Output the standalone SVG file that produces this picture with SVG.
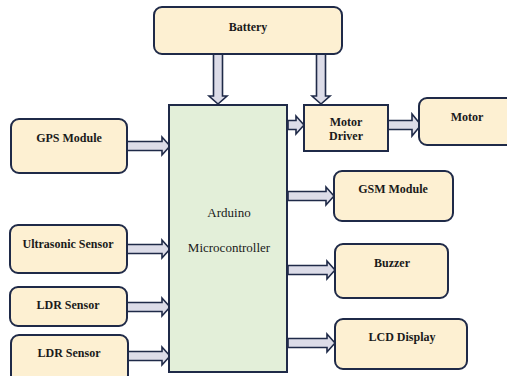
<svg xmlns="http://www.w3.org/2000/svg" width="507" height="376" viewBox="0 0 507 376">
<style>
.box{fill:#fdf0d2;stroke:#1f2a48;stroke-width:2}
.mcu{fill:#e3efd9;stroke:#1f2a48;stroke-width:2}
.arr{fill:#dcdce8;stroke:#1f2a48;stroke-width:1.6;stroke-linejoin:miter}
text{font-family:'Liberation Serif','DejaVu Serif',serif;fill:#1a1a1a;text-anchor:middle}
.lbl{font-weight:bold;font-size:12px}
.mt{font-size:13px}
</style>
<rect width="507" height="376" fill="#ffffff"/>
<g id="connectors">
<polygon class="arr" points="213.5,54 222.5,54 222.5,96 227,96 218,104 209,96 213.5,96"/>
<polygon class="arr" points="316.5,54 325.5,54 325.5,96 330,96 321,104 312,96 316.5,96"/>
<polygon class="arr" points="288,120.5 296,120.5 296,116 304,125 296,134 296,129.5 288,129.5"/>
<polygon class="arr" points="388,120.5 412,120.5 412,114 421,125 412,136 412,129.5 388,129.5"/>
<polygon class="arr" points="288,191.5 326,191.5 326,187 334,196 326,205 326,200.5 288,200.5"/>
<polygon class="arr" points="288,265.5 327,265.5 327,261 335,270 327,279 327,274.5 288,274.5"/>
<polygon class="arr" points="288,338.5 327,338.5 327,334 335,343 327,352 327,347.5 288,347.5"/>
<polygon class="arr" points="127,141.5 162,141.5 162,137 170,146 162,155 162,150.5 127,150.5"/>
<polygon class="arr" points="127,244.5 162,244.5 162,240 170,249 162,258 162,253.5 127,253.5"/>
<polygon class="arr" points="127,302.5 162,302.5 162,298 170,307 162,316 162,311.5 127,311.5"/>
<polygon class="arr" points="128,351.5 162,351.5 162,347 170,356 162,365 162,360.5 128,360.5"/>
</g>
<g id="battery"><rect class="box" x="154" y="7" width="188" height="47" rx="8"/><text class="lbl" x="248" y="31">Battery</text></g>
<g id="arduino"><rect class="mcu" x="169" y="105" width="118" height="267"/><text class="mt" x="229" y="217">Arduino</text><text class="mt" x="229" y="252">Microcontroller</text></g>
<g id="motor-driver"><rect class="box" x="304" y="105" width="84" height="46"/><text class="lbl" x="346" y="126">Motor</text><text class="lbl" x="346" y="140">Driver</text></g>
<g id="motor"><rect class="box" x="419" y="98" width="96" height="47" rx="8"/><text class="lbl" x="467" y="121">Motor</text></g>
<g id="gsm"><rect class="box" x="334" y="171" width="119" height="50" rx="8"/><text class="lbl" x="393" y="193">GSM Module</text></g>
<g id="buzzer"><rect class="box" x="335" y="244" width="113" height="54" rx="8"/><text class="lbl" x="392" y="267">Buzzer</text></g>
<g id="lcd"><rect class="box" x="335" y="319" width="132" height="50" rx="8"/><text class="lbl" x="402" y="341">LCD Display</text></g>
<g id="gps"><rect class="box" x="11" y="119" width="116" height="54" rx="8"/><text class="lbl" x="69" y="142">GPS Module</text></g>
<g id="ultrasonic"><rect class="box" x="10" y="225" width="117" height="48" rx="8"/><text class="lbl" x="68" y="248">Ultrasonic Sensor</text></g>
<g id="ldr1"><rect class="box" x="10" y="287" width="117" height="39" rx="8"/><text class="lbl" x="68" y="309">LDR Sensor</text></g>
<g id="ldr2"><rect class="box" x="11" y="335" width="117" height="48" rx="8"/><text class="lbl" x="69" y="357">LDR Sensor</text></g>
</svg>
